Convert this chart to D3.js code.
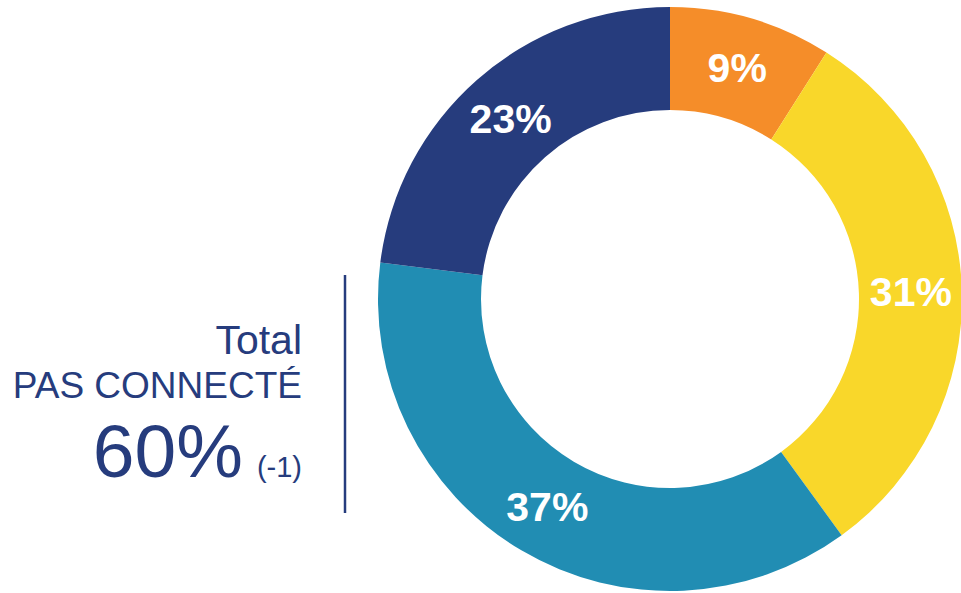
<!DOCTYPE html>
<meta charset="utf-8">
<head>
<title>Pas connecté</title>
</head>
<style>
html, body {
  margin: 0;
  overflow: hidden;
  background: #fff;
  font-family: "Liberation Sans", Arial, sans-serif;
}
</style>
<body>
<script src="https://cdn.jsdelivr.net/npm/d3@7"></script>
<script>

// slices, clockwise from 12 o'clock
var categories = ["a", "b", "c", "d"];
var values = [9, 31, 37, 23];
var labels = ["9%", "31%", "37%", "23%"];
var colors = ["#f58d29", "#f9d72a", "#218db3", "#263c7d"];

var totalLines = ["Total", "PAS CONNECTÉ"];
var totalValue = "60%";
var totalDelta = "(-1)";

var width = 961, height = 593;
var navy = "#263c7d";

var svg = d3.select("body").append("svg")
    .attr("width", width)
    .attr("height", height);

var cx = 670, cy = 299,
    outerR = 292, innerR = 189;

var pie = d3.pie().sort(null).value(function (d) { return d; });
var arc = d3.arc().innerRadius(innerR).outerRadius(outerR);
var labelArc = d3.arc().innerRadius(241).outerRadius(241);

var g = svg.append("g")
    .attr("transform", "translate(" + cx + "," + cy + ")");

var slices = g.selectAll("g.slice")
    .data(pie(values))
    .enter().append("g")
    .attr("class", "slice");

slices.append("path")
    .attr("d", arc)
    .attr("fill", function (d, i) { return colors[i]; });

slices.append("text")
    .attr("transform", function (d) { return "translate(" + labelArc.centroid(d) + ")"; })
    .attr("text-anchor", "middle")
    .attr("dy", "0.36em")
    .attr("fill", "#fff")
    .style("font-size", "41px")
    .style("font-weight", "bold")
    .text(function (d, i) { return labels[i]; });

// left summary text
var tx = 302;
svg.append("text")
    .attr("x", tx).attr("y", 354)
    .attr("text-anchor", "end")
    .attr("fill", navy)
    .style("font-size", "41px")
    .text(totalLines[0]);

svg.append("text")
    .attr("x", tx).attr("y", 398)
    .attr("text-anchor", "end")
    .attr("fill", navy)
    .style("font-size", "37px")
    .text(totalLines[1]);

var big = svg.append("text")
    .attr("x", tx).attr("y", 477)
    .attr("text-anchor", "end")
    .attr("fill", navy);
big.append("tspan")
    .style("font-size", "75px")
    .text(totalValue);
big.append("tspan")
    .attr("dx", 14)
    .style("font-size", "29px")
    .text(totalDelta);

svg.append("line")
    .attr("x1", 345).attr("x2", 345)
    .attr("y1", 275).attr("y2", 513)
    .attr("stroke", navy)
    .attr("stroke-width", 2.5);

</script>
</body>
